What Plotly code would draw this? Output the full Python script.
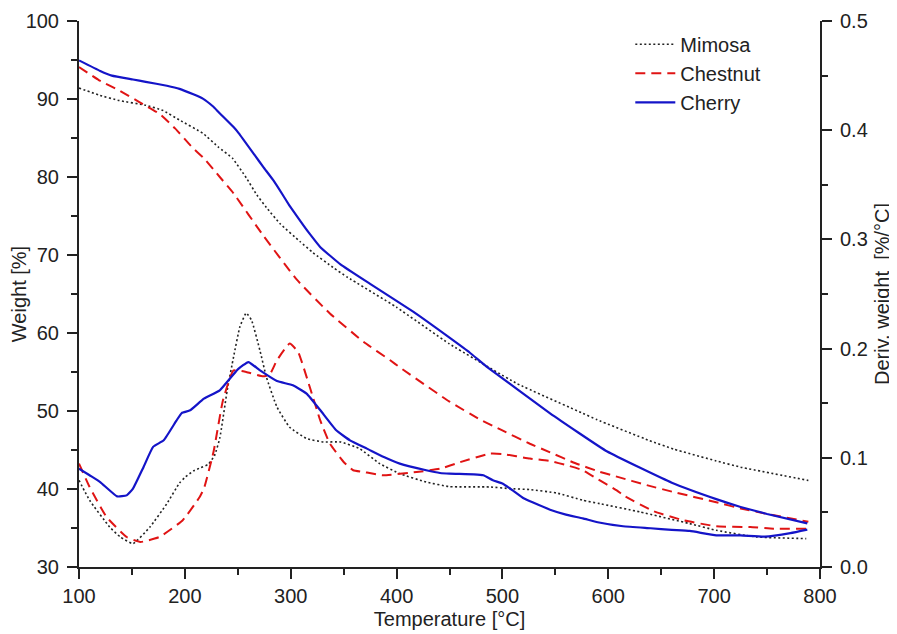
import plotly.graph_objects as go

# TG curves (weight, left axis)
mimosa_tg_t = [100, 119, 138, 163, 179, 195, 217, 232, 245, 258, 268, 277, 290, 309, 321, 340,
               353, 400, 450, 514, 576, 589, 639, 662, 702, 725, 789]
mimosa_tg_w = [91.4, 90.5, 89.8, 89.2, 88.55, 87.3, 85.6, 83.8, 82.4, 79.9, 77.7, 76.1, 74.0, 71.7,
               70.3, 68.4, 67.2, 63.3, 58.6, 53.5, 49.7, 48.9, 46.2, 45.1, 43.6, 42.8, 41.1]

chestnut_tg_t = [100, 119, 138, 157, 176, 191, 207, 218, 233, 246, 274, 306, 337, 369, 394, 403,
                 450, 479, 497, 526, 545, 567, 592, 605, 639, 662, 702, 725, 750, 789]
chestnut_tg_w = [94.1, 92.4, 91.1, 89.6, 88.1, 86.2, 83.8, 82.4, 80.0, 77.9, 72.5, 66.8, 62.5, 58.85,
                 56.5, 55.6, 51.2, 48.9, 47.7, 45.8, 44.7, 43.4, 42.2, 41.7, 40.4, 39.6, 38.3, 37.5,
                 36.8, 35.8]

cherry_tg_t = [100, 120, 131, 151, 163, 183, 195, 208, 217, 227, 232, 246, 251, 266, 274, 284, 293,
               299, 312, 318, 328, 347, 375, 416, 450, 469, 485, 545, 599, 660, 702, 725, 750, 788]
cherry_tg_w = [94.95, 93.6, 93.0, 92.5, 92.2, 91.7, 91.3, 90.6, 90.05, 89.0, 88.3, 86.4, 85.6, 82.8,
               81.3, 79.5, 77.6, 76.3, 73.8, 72.7, 71.0, 68.8, 66.3, 62.7, 59.4, 57.5, 55.7, 49.7,
               44.8, 40.8, 38.7, 37.7, 36.8, 35.6]

# DTG curves (derivative weight, right axis)
mimosa_dtg_t = [100, 110, 129, 139, 151, 167, 183, 195, 200, 208, 215, 222, 228, 233, 240, 246, 252,
                258, 263, 271, 277, 287, 299, 315, 331, 347, 365, 384, 403, 428, 450, 488, 507, 526,
                551, 576, 592, 630, 677, 702, 740, 787]
mimosa_dtg_d = [0.0794, 0.0611, 0.0366, 0.0275, 0.0214, 0.0366, 0.058, 0.077, 0.082, 0.088, 0.091,
                0.094, 0.102, 0.118, 0.1618, 0.1923, 0.22, 0.2326, 0.226, 0.198, 0.174, 0.1465,
                0.128, 0.1176, 0.1145, 0.1145, 0.1084, 0.0947, 0.0855, 0.0778, 0.0736, 0.0733,
                0.0718, 0.0709, 0.0678, 0.0611, 0.058, 0.0504, 0.0397, 0.0336, 0.0275, 0.026]

chestnut_dtg_t = [100, 110, 126, 145, 158, 176, 198, 214, 218, 227, 236, 246, 258, 274, 280, 287,
                  299, 307, 318, 328, 337, 350, 359, 369, 387, 419, 441, 460, 488, 500, 526, 545,
                  561, 576, 589, 608, 614, 643, 671, 702, 734, 756, 789]
chestnut_dtg_d = [0.0947, 0.0733, 0.0458, 0.0275, 0.0229, 0.0275, 0.0428, 0.0641, 0.0718, 0.105,
                  0.1527, 0.180, 0.1786, 0.1746, 0.176, 0.1893, 0.2046, 0.1969, 0.1648, 0.134,
                  0.113, 0.0962, 0.0886, 0.087, 0.084, 0.087, 0.090, 0.096, 0.1038, 0.1035,
                  0.0993, 0.097, 0.0931, 0.0886, 0.081, 0.0702, 0.0657, 0.051, 0.0428, 0.0373,
                  0.0366, 0.0351, 0.0351]

cherry_dtg_t = [100, 110, 120, 136, 145, 151, 161, 170, 180, 192, 197, 205, 218, 233, 250, 260, 271,
                287, 302, 315, 328, 343, 356, 372, 388, 403, 428, 441, 450, 473, 482, 491, 500, 510,
                520, 529, 545, 560, 576, 590, 614, 640, 660, 677, 702, 725, 748, 772, 788]
cherry_dtg_d = [0.0901, 0.084, 0.0778, 0.0647, 0.0656, 0.0718, 0.0916, 0.11, 0.116, 0.134, 0.141,
                0.1435, 0.1542, 0.1618, 0.181, 0.1877, 0.18, 0.1703, 0.1664, 0.1588, 0.1435,
                0.1252, 0.116, 0.1084, 0.1007, 0.0947, 0.0886, 0.0861, 0.0855, 0.0849, 0.084,
                0.0794, 0.0765, 0.070, 0.063, 0.059, 0.0525, 0.048, 0.0445, 0.041, 0.0373,
                0.0355, 0.034, 0.033, 0.029, 0.029, 0.0278, 0.031, 0.0342]

BLACK = "#222222"
RED = "#e01414"
BLUE = "#1414c8"
FONT = "Liberation Sans, Arial, sans-serif"

styles = {
    "Mimosa": dict(color=BLACK, width=1.6, dash="2px,2.5px"),
    "Chestnut": dict(color=RED, width=2, dash="10px,6px"),
    "Cherry": dict(color=BLUE, width=2.2, dash="solid"),
}

fig = go.Figure()

for name, t, w in [("Mimosa", mimosa_tg_t, mimosa_tg_w),
                   ("Chestnut", chestnut_tg_t, chestnut_tg_w),
                   ("Cherry", cherry_tg_t, cherry_tg_w)]:
    fig.add_trace(go.Scatter(x=t, y=w, mode="lines", name=name,
                             line=dict(shape="spline", smoothing=0.35, **styles[name])))

for name, t, d in [("Mimosa", mimosa_dtg_t, mimosa_dtg_d),
                   ("Chestnut", chestnut_dtg_t, chestnut_dtg_d),
                   ("Cherry", cherry_dtg_t, cherry_dtg_d)]:
    fig.add_trace(go.Scatter(x=t, y=d, mode="lines", name=name, yaxis="y2", showlegend=False,
                             line=dict(shape="spline", smoothing=0.4, **styles[name])))

axis_common = dict(
    showgrid=False, zeroline=False, showline=True, linecolor=BLACK, linewidth=2,
    ticks="outside", ticklen=10, tickwidth=2, tickcolor=BLACK, automargin=False,
    tickfont=dict(family=FONT, size=20, color=BLACK),
    minor=dict(ticks="outside", ticklen=6, tickwidth=2, tickcolor=BLACK),
)

# the page body adds an 8px margin, so the figure is a little smaller than the window
fig.update_layout(
    width=889, height=626,
    margin=dict(l=71, r=77, t=13, b=67),
    paper_bgcolor="white", plot_bgcolor="white",
    font=dict(family=FONT, size=20, color=BLACK),
    xaxis=dict(range=[100, 800], dtick=100, tick0=100,
               title=dict(text="Temperature [°C]", standoff=6, font=dict(size=20)),
               minor_dtick=50, **axis_common),
    yaxis=dict(range=[30, 100], dtick=10, tick0=30, ticklabelstandoff=4,
               title=dict(text="Weight [%]", standoff=8, font=dict(size=20)),
               minor_dtick=5, **axis_common),
    yaxis2=dict(range=[0, 0.5], dtick=0.1, tick0=0, tickformat=".1f", overlaying="y", side="right",
                ticklabelstandoff=4,
                title=dict(text="Deriv. weight  [%/°C]", standoff=8, font=dict(size=20)),
                minor_dtick=0.05, **axis_common),
    legend=dict(x=0.744, y=0.993, xanchor="left", yanchor="top", bgcolor="rgba(0,0,0,0)",
                font=dict(family=FONT, size=20, color=BLACK), tracegroupgap=0, itemwidth=40),
    showlegend=True,
)

fig.write_html("out.html")
